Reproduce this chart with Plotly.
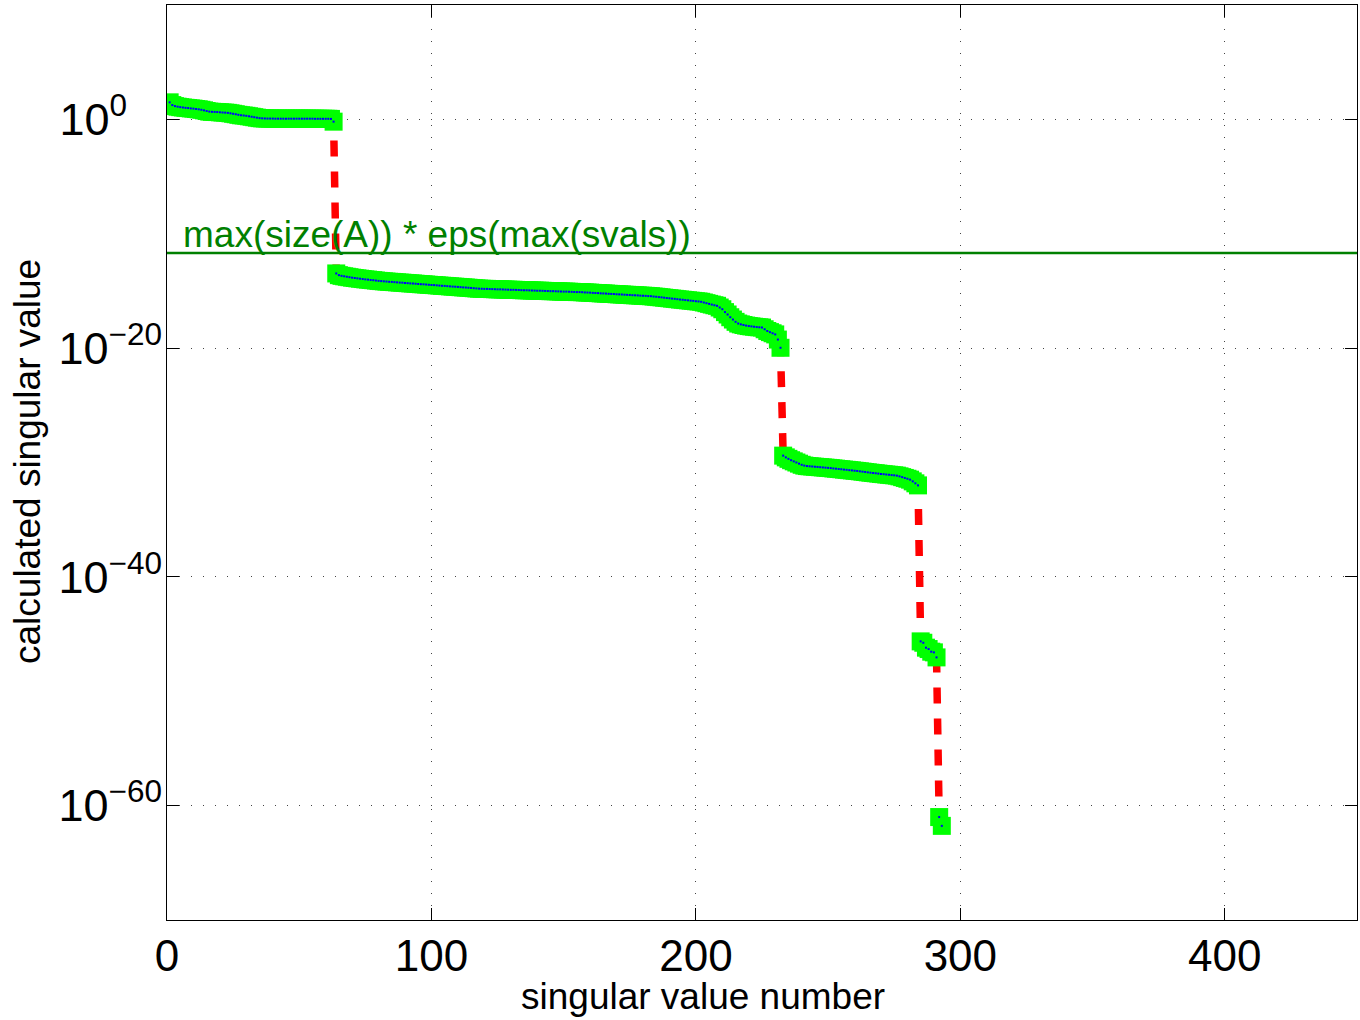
import plotly.graph_objects as go

# log10 of the singular values, one list per cluster
seg1_exp = [1.49, 1.25, 1.16, 1.11, 1.07, 1.04, 1.01, 0.99, 0.96, 0.94,
            0.91, 0.88, 0.84, 0.79, 0.73, 0.68, 0.66, 0.65, 0.64, 0.62,
            0.60, 0.59, 0.57, 0.53, 0.49, 0.45, 0.40, 0.36, 0.34, 0.31,
            0.27, 0.23, 0.19, 0.15, 0.11, 0.09, 0.08, 0.07, 0.07, 0.07,
            0.06, 0.06, 0.06, 0.06, 0.06, 0.06, 0.06, 0.06, 0.06, 0.06,
            0.06, 0.06, 0.06, 0.06, 0.06, 0.05, 0.05, 0.05, 0.05, 0.05,
            0.05, 0.04, -0.20]

seg2_exp = [-13.47, -13.62, -13.68, -13.72, -13.76, -13.80, -13.84, -13.87, -13.90, -13.93,
            -13.96, -13.99, -14.01, -14.04, -14.06, -14.09, -14.12,
            -14.14, -14.16, -14.18, -14.20, -14.21, -14.23, -14.25, -14.27, -14.28, -14.30,
            -14.32, -14.34, -14.35, -14.37, -14.39, -14.41, -14.42, -14.44, -14.46, -14.48,
            -14.49, -14.51, -14.53, -14.55, -14.56, -14.58, -14.60, -14.62, -14.63, -14.65,
            -14.67, -14.69, -14.70, -14.72, -14.74, -14.76, -14.78, -14.80,
            -14.81, -14.82, -14.82, -14.83, -14.84, -14.85, -14.86, -14.86, -14.87, -14.88,
            -14.89, -14.90, -14.90, -14.91, -14.92, -14.93, -14.94, -14.94, -14.95, -14.96,
            -14.97, -14.98, -14.98, -14.99, -15.00, -15.01, -15.02, -15.02, -15.03, -15.04,
            -15.05, -15.06, -15.06, -15.07, -15.08, -15.09, -15.10, -15.10,
            -15.11, -15.13, -15.14, -15.15, -15.17, -15.18, -15.19, -15.21, -15.22, -15.23,
            -15.25, -15.26, -15.27, -15.29, -15.30, -15.31, -15.33, -15.34, -15.35, -15.37,
            -15.38, -15.39, -15.41, -15.42, -15.43, -15.45, -15.46,
            -15.49, -15.51, -15.54, -15.56, -15.59, -15.62, -15.64, -15.67, -15.69, -15.72, -15.75,
            -15.77, -15.80, -15.82, -15.85, -15.87, -15.90, -15.92, -15.95,
            -16.01, -16.07, -16.13, -16.19, -16.25, -16.30,
            -16.45, -16.60, -16.85, -17.06,
            -17.30, -17.50, -17.70, -17.85,
            -17.92, -17.98, -18.03, -18.07, -18.10,
            -18.13, -18.16, -18.18, -18.20,
            -18.35, -18.50, -18.60, -18.70, -18.80, -19.25, -19.97]

seg3_exp = [-29.40, -29.55, -29.68, -29.80, -29.90, -30.00, -30.10, -30.20, -30.27, -30.31,
            -30.33, -30.35, -30.37, -30.39, -30.41, -30.43, -30.45, -30.47,
            -30.49, -30.52, -30.54, -30.57, -30.59, -30.62, -30.64, -30.67, -30.69, -30.72,
            -30.74, -30.77, -30.80, -30.83, -30.86, -30.89, -30.92, -30.94, -30.97, -31.00,
            -31.02, -31.05, -31.07, -31.10, -31.12, -31.15,
            -31.21, -31.28, -31.35, -31.42, -31.50, -31.65, -31.82, -32.00]

seg4_exp = [-45.64, -45.76, -46.19, -46.31, -46.54, -46.60, -47.04]

seg5_exp = [-61.00, -61.77]

threshold = 2.1e-12  # max(size(A)) * eps(max(svals))

x_tick_vals = [0, 100, 200, 300, 400]
y_tick_exps = [0, -20, -40, -60]

exps = seg1_exp + seg2_exp + seg3_exp + seg4_exp + seg5_exp
svals = [10.0 ** e for e in exps]
index = list(range(1, len(svals) + 1))

FONT = "Liberation Sans, Arial, sans-serif"

fig = go.Figure()
fig.add_trace(go.Scatter(x=index, y=svals, mode="lines",
                         line=dict(color="#ff0000", width=7.5, dash="16px,15px"),
                         hoverinfo="skip"))
fig.add_trace(go.Scatter(x=[0, 450], y=[threshold, threshold], mode="lines",
                         line=dict(color="#008000", width=2.5), hoverinfo="skip"))
fig.add_trace(go.Scatter(x=index, y=svals, mode="markers",
                         marker=dict(symbol="square", size=18, color="#00ff00",
                                     line=dict(width=0))))
fig.add_trace(go.Scatter(x=index, y=svals, mode="markers",
                         marker=dict(symbol="square", size=2, color="#0000ff",
                                     line=dict(width=0)),
                         hoverinfo="skip"))

fig.add_annotation(x=5.3, y=-11.66, xref="x", yref="y", xanchor="left", yanchor="bottom",
                   text="max(size(A)) * eps(max(svals))", showarrow=False,
                   font=dict(family=FONT, size=37, color="#008000"), yshift=-4)

# axis titles placed where the reference shows them
fig.add_annotation(x=(703 - 167) / 1190, y=(920 - 997) / 915, xref="paper", yref="paper",
                   xanchor="center", yanchor="middle", showarrow=False,
                   text="singular value number", font=dict(family=FONT, size=37, color="black"))
fig.add_annotation(x=(27 - 167) / 1190, y=(920 - 462) / 915, xref="paper", yref="paper",
                   xanchor="center", yanchor="middle", showarrow=False, textangle=-90,
                   text="calculated singular value", font=dict(family=FONT, size=37, color="black"))


def sup_label(e):
    s = str(e).replace("-", "\u2212")
    if e == 0:
        s = s + "\u2007\u2007"
    return "10<sup>%s</sup>" % s


y_tick_text = [sup_label(e) for e in y_tick_exps]

fig.update_layout(
    width=1360, height=1020,
    margin=dict(l=167, r=3, t=5, b=100),
    paper_bgcolor="white", plot_bgcolor="white",
    showlegend=False,
    font=dict(family=FONT, color="black"),
    xaxis=dict(range=[0, 450], tickvals=x_tick_vals, ticks="inside", ticklen=12,
               tickcolor="black", showline=True, linecolor="black", linewidth=1,
               mirror="ticks", showgrid=True, gridcolor="#444444", griddash="1px,11px",
               gridwidth=1, zeroline=False, tickfont=dict(size=44), automargin=False,
               ticklabelstandoff=-3),
    yaxis=dict(type="log", range=[-70, 10], tickvals=[10.0 ** e for e in y_tick_exps],
               ticktext=y_tick_text, ticks="inside", ticklen=12, tickcolor="black",
               showline=True, linecolor="black", linewidth=1, mirror="ticks",
               showgrid=True, gridcolor="#444444", griddash="1px,11px", gridwidth=1,
               zeroline=False, tickfont=dict(size=45), ticklabelstandoff=-5, automargin=False),
)

fig.write_html("out.html", config={"displayModeBar": False},
               post_script="document.body.style.margin='0';"
                           "document.documentElement.style.overflow='hidden';")
